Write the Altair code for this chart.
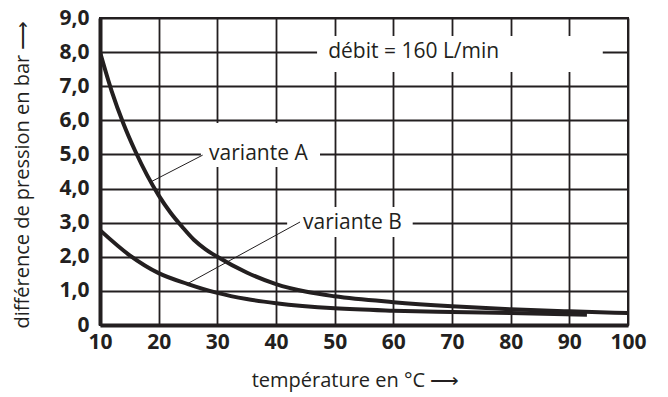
import altair as alt
import pandas as pd

# Curve data
temp_a = [10, 12, 14, 16, 18, 20, 22, 24, 26, 28, 30, 35, 40, 45, 50, 60, 70, 80, 90, 100]
val_a = [8.0, 6.85, 5.9, 5.1, 4.4, 3.8, 3.3, 2.88, 2.5, 2.22, 2.0, 1.54, 1.2, 0.98, 0.84, 0.67, 0.55, 0.46, 0.4, 0.35]
temp_b = [10, 15, 20, 25, 30, 35, 40, 50, 60, 70, 80, 93]
val_b = [2.78, 2.05, 1.52, 1.2, 0.94, 0.76, 0.64, 0.49, 0.42, 0.38, 0.35, 0.3]

# Tick values
x_ticks = [10, 20, 30, 40, 50, 60, 70, 80, 90, 100]
y_ticks = [0, 1, 2, 3, 4, 5, 6, 7, 8, 9]

# Annotations
ann_text = ["débit = 160 L/min", "variante A", "variante B"]
ann_x = [48.9, 28.6, 44.6]
ann_y = [8.0, 5.0, 3.0]
box_x1 = [47.0, 27.2, 41.9]
box_x2 = [95.7, 47.5, 63.3]
box_y1 = [7.42, 4.63, 2.58]
box_y2 = [8.47, 5.92, 3.46]
lead_x1 = [27.5, 44.1]
lead_y1 = [4.98, 3.02]
lead_x2 = [18.6, 24.8]
lead_y2 = [4.19, 1.2]

curves = pd.concat([
    pd.DataFrame({"t": temp_a, "p": val_a, "s": "A"}),
    pd.DataFrame({"t": temp_b, "p": val_b, "s": "B"}),
])
boxes = pd.DataFrame({"x1": box_x1, "x2": box_x2, "y1": box_y1, "y2": box_y2})
texts = pd.DataFrame({"x": ann_x, "y": ann_y, "label": ann_text})
leads = pd.DataFrame({"x1": lead_x1, "y1": lead_y1, "x2": lead_x2, "y2": lead_y2})

INK = "#231f20"
FONT = "Open Sans"

xscale = alt.Scale(domain=[10, 100], nice=False, zero=False)
yscale = alt.Scale(domain=[0, 9], nice=False)

xaxis = alt.Axis(
    values=x_ticks,
    title="température en °C ⟶",
    titleFont=FONT, titleFontSize=20, titleFontWeight="normal", titleColor=INK,
    titleX=255, titleY=55, titleBaseline="middle",
    labelFont=FONT, labelFontSize=21, labelFontWeight="bold", labelColor=INK,
    labelPadding=6, ticks=False, labelFlush=False, labelOverlap=False,
    domainColor=INK, domainWidth=4,
    grid=True, gridColor=INK, gridWidth=1.8,
)
yaxis = alt.Axis(
    values=y_ticks,
    title="différence de pression en bar ⟶",
    titleFont=FONT, titleFontSize=20, titleFontWeight="normal", titleColor=INK,
    titleX=-78, titleY=156, titleAngle=-90, titleBaseline="middle",
    labelFont=FONT, labelFontSize=21, labelFontWeight="bold", labelColor=INK,
    labelPadding=11, ticks=False, labelFlush=False, labelOverlap=False,
    labelExpr="datum.value == 0 ? '0' : replace(format(datum.value, '.1f'), '.', ',')",
    domainColor=INK, domainWidth=4,
    grid=True, gridColor=INK, gridWidth=1.8,
)

base_lines = alt.Chart(curves).mark_line(
    color=INK, strokeWidth=4, interpolate="monotone", clip=True
).encode(
    x=alt.X("t:Q", scale=xscale, axis=xaxis),
    y=alt.Y("p:Q", scale=yscale, axis=yaxis),
    detail="s:N",
)

rects = alt.Chart(boxes).mark_rect(color="white").encode(
    x=alt.X("x1:Q", scale=xscale, axis=xaxis), x2="x2:Q",
    y=alt.Y("y1:Q", scale=yscale, axis=yaxis), y2="y2:Q",
)

leaders = alt.Chart(leads).mark_rule(color=INK, strokeWidth=1).encode(
    x=alt.X("x1:Q", scale=xscale, axis=xaxis), x2="x2:Q",
    y=alt.Y("y1:Q", scale=yscale, axis=yaxis), y2="y2:Q",
)

labels = alt.Chart(texts).mark_text(
    align="left", baseline="middle", font=FONT, fontSize=21, color=INK
).encode(
    x=alt.X("x:Q", scale=xscale, axis=xaxis),
    y=alt.Y("y:Q", scale=yscale, axis=yaxis),
    text="label:N",
)

chart = alt.layer(rects, leaders, labels, base_lines).properties(
    width=528, height=307,
    autosize=alt.AutoSizeParams(type="none"),
    padding={"left": 100, "top": 18, "right": 40, "bottom": 72},
    background="white",
).configure_view(
    stroke=INK, strokeWidth=2
)

chart.save("out.html", embed_options={"renderer": "svg", "actions": False})
